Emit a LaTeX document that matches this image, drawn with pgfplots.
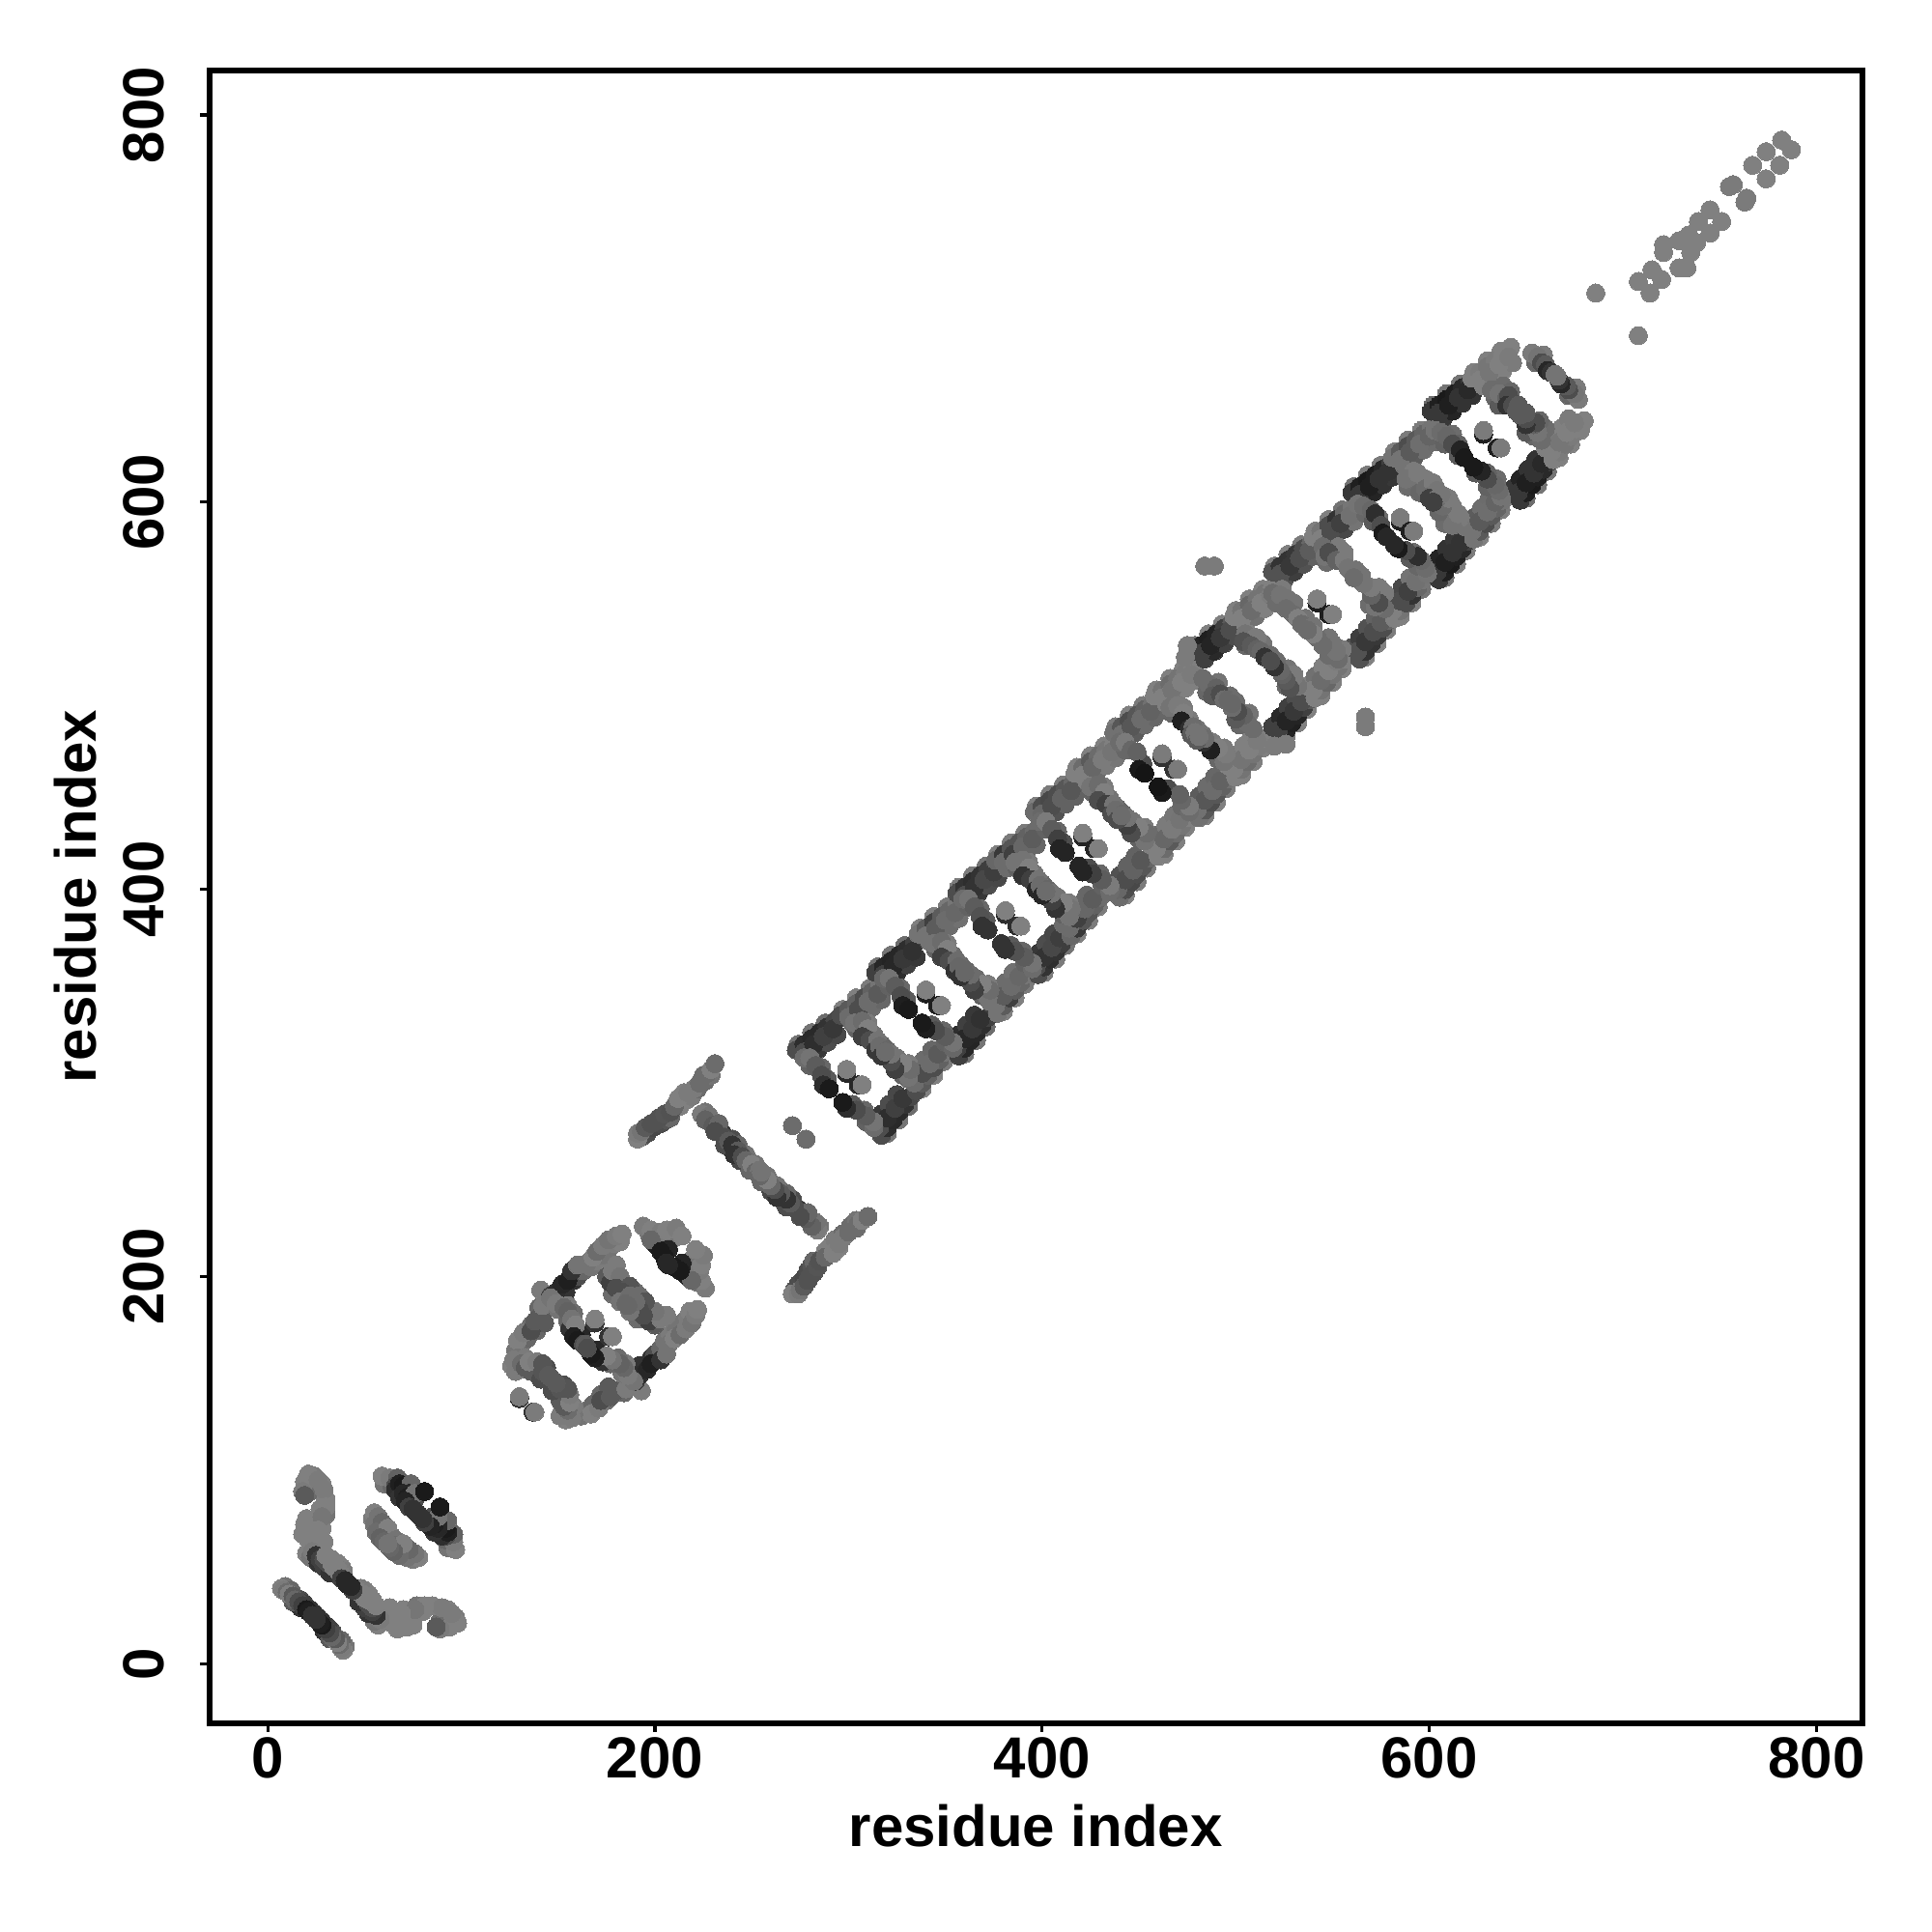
\documentclass[border=0pt]{standalone}
\usepackage{fontspec}
\setmainfont{Liberation Sans}
\usepackage{pgfplots}
\usepackage{pgfplotstable}
\pgfplotsset{compat=1.18}
\pgfplotstableread[row sep=\\]{
x y g\\
9 40 .45\\ 12 38 .4\\ 15 34 .42\\ 17 33 .3\\ 19 31 .25\\ 22 28 .2\\ 17 29 .2\\ 13 32 .35\\ 24 26 .2\\
7 39 .5\\ 8 38 .48\\ 10 37 .42\\ 11 36 .5\\ 13 35 .35\\ 14 33 .4\\ 16 32 .3\\ 18 30 .25\\ 20 28 .1\\ 21 27 .12\\ 23 25 .2\\
24 97 .48\\ 28 93 .5\\ 22 89 .42\\ 30 85 .5\\ 30 77 .45\\ 27 80 .5\\ 20 75 .5\\ 24 72 .5\\ 28 70 .5\\ 21 64 .5\\ 26 65 .48\\ 20 70 .5\\ 25 62 .5\\ 29 63 .5\\
21 98 .5\\ 19 94 .5\\ 18 89 .48\\ 19 87 .35\\ 26 95 .48\\ 29 90 .48\\ 30 81 .5\\ 28 76 .46\\ 19 72 .5\\ 18 67 .5\\ 26 69 .5\\ 22 66 .5\\ 20 57 .5\\ 22 55 .45\\ 23 58 .48\\
26 52 .2\\ 29 50 .25\\ 32 47 .2\\ 25 56 .2\\ 27 54 .25\\ 29 54 .3\\ 31 52 .3\\ 30 56 .5\\ 33 54 .5\\ 36 52 .5\\ 38 50 .5\\ 39 48 .48\\ 33 52 .5\\ 34 50 .5\\ 36 49 .5\\ 37 47 .5\\ 38 46 .5\\ 38 44 .25\\ 40 43 .15\\ 41 41 .15\\
60 93 .45\\ 64 92 .4\\ 59 97 .5\\ 63 96 .48\\ 67 96 .38\\ 66 92 .3\\ 68 89 .14\\ 66 90 .18\\ 68 93 .12\\ 70 92 .1\\ 74 93 .4\\ 73 88 .16\\ 68 86 .2\\ 76 85 .3\\ 70 88 .15\\ 72 86 .12\\ 76 88 .45\\ 81 89 .1\\ 71 84 .14\\ 73 81 .25\\ 75 80 .2\\ 77 78 .2\\
54 75 .48\\ 57 71 .48\\ 60 68 .45\\ 64 66 .45\\ 59 70 .42\\ 61 66 .42\\ 55 78 .5\\ 57 76 .45\\ 55 72 .45\\ 59 73 .4\\ 56 68 .42\\ 62 70 .5\\ 58 65 .38\\ 60 63 .4\\ 62 62 .45\\
131 165 .45\\ 134 168 .4\\ 136 175 .42\\ 139 172 .4\\ 143 176 .35\\ 140 184 .4\\ 147 186 .2\\ 150 188 .15\\ 154 192 .2\\ 158 198 .2\\ 160 200 .3\\ 163 203 .4\\ 167 205 .45\\ 170 208 .48\\ 173 211 .45\\ 176 214 .45\\ 179 217 .48\\ 182 218 .5\\
128 162 .45\\ 129 167 .5\\ 132 171 .48\\ 136 172 .3\\ 138 177 .35\\ 141 180 .35\\ 142 185 .48\\ 141 193 .48\\ 146 190 .25\\ 149 192 .18\\ 152 196 .15\\ 155 198 .12\\ 157 203 .2\\ 160 206 .45\\ 165 207 .45\\ 168 210 .5\\ 170 213 .42\\ 173 216 .48\\ 176 219 .45\\ 180 221 .48\\ 183 222 .5\\
129 158 .45\\ 133 158 .48\\ 137 153 .35\\ 140 150 .3\\ 130 152 .45\\ 136 151 .35\\ 141 147 .3\\ 144 153 .3\\
126 154 .5\\ 127 157 .48\\ 128 151 .48\\ 131 155 .42\\ 133 153 .35\\ 135 156 .5\\ 139 156 .48\\ 142 155 .33\\ 142 151 .33\\ 145 149 .35\\ 148 146 .35\\ 130 137 .2\\ 130 138 .48\\
150 183 .45\\ 155 185 .48\\ 158 181 .42\\ 155 177 .4\\ 156 173 .2\\ 162 170 .15\\ 165 164 .35\\
146 189 .45\\ 149 186 .48\\ 153 184 .4\\ 155 182 .38\\ 157 178 .45\\ 159 175 .5\\ 158 169 .12\\ 160 167 .1\\ 163 165 .3\\ 169 176 .2\\ 169 178 .5\\
175 200 .35\\ 181 196 .3\\ 178 191 .42\\ 184 188 .4\\ 190 192 .42\\ 180 206 .48\\
177 197 .25\\ 178 203 .48\\ 182 200 .45\\ 180 194 .3\\ 187 195 .33\\ 183 192 .3\\ 182 187 .45\\ 187 190 .42\\ 185 186 .4\\
197 222 .45\\ 210 220 .5\\ 208 222 .48\\ 205 219 .45\\ 200 217 .25\\ 201 216 .12\\ 207 214 .14\\
194 226 .48\\ 198 224 .5\\ 203 223 .48\\ 206 224 .5\\ 211 225 .48\\ 214 221 .5\\ 198 219 .4\\ 203 213 .1\\ 205 210 .1\\ 206 207 .15\\
193 272 .35\\ 196 274 .3\\ 199 277 .28\\ 203 279 .3\\ 206 281 .33\\ 208 282 .4\\ 213 288 .5\\ 216 291 .5\\ 219 293 .48\\ 222 297 .42\\ 226 301 .42\\ 229 304 .45\\
191 271 .5\\ 191 274 .48\\ 193 275 .45\\ 195 277 .35\\ 198 279 .32\\ 200 280 .32\\ 202 282 .32\\ 205 284 .33\\ 208 285 .32\\ 210 288 .4\\ 212 292 .5\\ 215 295 .5\\ 217 295 .48\\ 220 297 .48\\ 223 300 .42\\ 225 304 .42\\ 227 305 .42\\ 229 307 .5\\ 231 310 .42\\
226 285 .45\\ 229 281 .3\\ 233 276 .3\\ 235 274 .22\\ 238 267 .3\\ 240 271 .3\\ 243 268 .4\\ 244 260 .28\\ 247 263 .45\\ 249 255 .4\\ 252 258 .45\\ 236 268 .3\\
224 284 .48\\ 228 283 .45\\ 226 281 .38\\ 230 278 .35\\ 233 279 .4\\ 231 275 .3\\ 236 272 .3\\ 238 270 .35\\ 240 268 .2\\ 243 265 .35\\ 241 263 .2\\ 245 262 .3\\ 247 260 .4\\ 250 258 .5\\ 252 254 .4\\ 254 255 .45\\
271 278 .42\\
279 313 .3\\ 284 317 .22\\ 289 321 .3\\ 294 325 .28\\
274 320 .45\\ 281 326 .45\\ 288 331 .42\\ 273 317 .3\\ 277 320 .18\\ 281 323 .16\\ 285 326 .16\\ 289 329 .2\\ 293 332 .28\\ 277 316 .3\\ 282 320 .18\\ 287 324 .25\\ 292 328 .22\\
280 309 .38\\ 286 308 .4\\ 289 302 .35\\
277 313 .42\\ 280 313 .45\\ 283 309 .36\\ 286 304 .3\\ 287 299 .18\\ 290 297 .1\\ 299 305 .15\\ 299 307 .5\\
302 331 .42\\ 307 335 .35\\ 312 339 .42\\ 317 343 .4\\
297 338 .5\\ 304 344 .5\\ 311 349 .48\\ 296 335 .3\\ 300 338 .35\\ 304 341 .38\\ 308 344 .3\\ 312 347 .38\\ 316 350 .45\\ 300 334 .42\\ 305 338 .3\\ 310 342 .42\\ 315 346 .35\\
304 328 .38\\ 313 325 .45\\ 310 331 .48\\ 317 320 .4\\
303 331 .45\\ 307 332 .42\\ 310 328 .5\\ 307 324 .25\\ 311 322 .3\\ 315 322 .45\\ 314 317 .22\\ 316 319 .42\\
320 353 .25\\ 325 357 .18\\ 330 361 .25\\ 335 365 .22\\
315 360 .45\\ 322 366 .45\\ 329 371 .42\\ 314 357 .25\\ 318 360 .15\\ 322 363 .14\\ 326 366 .15\\ 330 369 .18\\ 334 372 .25\\ 318 356 .25\\ 323 360 .15\\ 328 364 .22\\ 333 368 .19\\
321 350 .38\\ 327 349 .4\\ 330 343 .35\\
318 354 .4\\ 321 354 .45\\ 324 350 .36\\ 327 345 .3\\ 328 340 .12\\ 331 338 .1\\ 340 346 .12\\ 340 348 .5\\
342 373 .45\\ 347 377 .4\\ 352 381 .42\\ 357 385 .44\\
337 380 .5\\ 344 386 .5\\ 351 391 .48\\ 336 377 .45\\ 340 380 .36\\ 344 383 .25\\ 348 386 .36\\ 352 389 .4\\ 356 392 .46\\ 340 376 .45\\ 345 380 .36\\ 350 384 .42\\ 355 388 .4\\
345 369 .38\\ 354 366 .42\\ 351 372 .48\\ 358 361 .4\\
344 372 .45\\ 348 373 .42\\ 351 369 .5\\ 348 365 .25\\ 352 363 .3\\ 356 363 .42\\ 355 358 .2\\ 357 360 .4\\
362 394 .3\\ 367 398 .22\\ 372 402 .3\\ 377 406 .28\\
357 401 .48\\ 364 407 .48\\ 371 412 .45\\ 356 398 .3\\ 360 401 .2\\ 364 404 .18\\ 368 407 .2\\ 372 410 .24\\ 376 413 .3\\ 360 397 .3\\ 365 401 .2\\ 370 405 .28\\ 375 409 .24\\
362 391 .38\\ 368 390 .4\\ 371 384 .35\\
359 395 .42\\ 362 395 .45\\ 365 391 .36\\ 368 386 .32\\ 369 381 .2\\ 372 379 .2\\ 381 387 .18\\ 381 389 .5\\
382 411 .42\\ 387 415 .3\\ 392 419 .4\\ 397 423 .4\\
377 418 .5\\ 384 424 .48\\ 391 429 .48\\ 376 415 .4\\ 380 418 .22\\ 384 421 .33\\ 388 424 .33\\ 392 427 .38\\ 396 430 .42\\ 380 414 .42\\ 385 418 .25\\ 390 422 .4\\ 395 426 .36\\
387 411 .38\\ 396 408 .45\\ 393 414 .48\\ 400 403 .4\\
386 414 .45\\ 390 415 .45\\ 393 411 .5\\ 390 407 .2\\ 394 405 .25\\ 398 405 .45\\ 397 400 .15\\ 399 402 .42\\
402 436 .4\\ 407 440 .32\\ 412 444 .38\\ 417 448 .38\\
397 443 .5\\ 404 449 .48\\ 411 454 .48\\ 396 440 .42\\ 400 443 .3\\ 404 446 .28\\ 408 449 .3\\ 412 452 .34\\ 416 455 .4\\ 400 439 .4\\ 405 443 .3\\ 410 447 .38\\ 415 451 .34\\
402 431 .38\\ 408 430 .4\\ 411 424 .3\\
399 435 .42\\ 402 435 .48\\ 405 431 .36\\ 408 426 .25\\ 409 421 .14\\ 412 419 .14\\ 421 427 .14\\ 421 429 .5\\
423 456 .5\\ 428 460 .42\\ 433 464 .48\\ 438 468 .46\\
418 463 .5\\ 425 469 .5\\ 432 474 .5\\ 417 460 .5\\ 421 463 .42\\ 425 466 .35\\ 429 469 .42\\ 433 472 .46\\ 437 475 .5\\ 421 459 .5\\ 426 463 .4\\ 431 467 .48\\ 436 471 .45\\
426 450 .38\\ 435 447 .45\\ 432 453 .48\\ 439 442 .4\\
425 453 .45\\ 429 454 .42\\ 432 450 .5\\ 429 446 .3\\ 433 444 .25\\ 437 444 .45\\ 436 439 .3\\ 438 441 .42\\
443 477 .44\\ 448 481 .36\\ 453 485 .42\\ 458 489 .4\\
438 484 .48\\ 445 490 .5\\ 452 495 .48\\ 437 481 .44\\ 441 484 .34\\ 445 487 .3\\ 449 490 .34\\ 453 493 .38\\ 457 496 .44\\ 441 480 .44\\ 446 484 .34\\ 451 488 .42\\ 456 492 .38\\
443 472 .4\\ 449 471 .42\\ 452 465 .3\\
440 476 .42\\ 443 476 .48\\ 446 472 .4\\ 449 471 .38\\ 450 462 .1\\ 453 460 .08\\ 462 468 .2\\ 462 470 .48\\
464 496 .5\\ 469 500 .46\\ 474 504 .5\\ 479 508 .5\\
459 503 .5\\ 466 509 .5\\ 473 514 .5\\ 458 500 .5\\ 462 503 .45\\ 466 506 .42\\ 470 509 .45\\ 474 512 .48\\ 478 515 .5\\ 462 499 .5\\ 467 503 .45\\ 472 507 .5\\ 477 511 .48\\
467 491 .4\\ 476 488 .48\\ 473 494 .48\\ 480 483 .45\\
466 494 .45\\ 470 495 .48\\ 473 491 .5\\ 472 487 .12\\ 476 483 .18\\ 478 484 .42\\ 477 480 .35\\ 479 481 .45\\
484 519 .25\\ 489 523 .16\\ 494 527 .25\\ 499 531 .3\\
479 526 .48\\ 486 532 .5\\ 493 537 .5\\ 478 523 .25\\ 482 526 .14\\ 486 529 .12\\ 490 532 .14\\ 494 535 .25\\ 498 538 .35\\ 482 522 .25\\ 487 526 .14\\ 492 530 .22\\ 497 534 .3\\
483 509 .42\\ 485 502 .4\\ 491 507 .45\\ 497 500 .42\\
486 506 .42\\ 490 504 .38\\ 488 500 .35\\ 492 501 .3\\ 494 498 .42\\ 496 498 .4\\ 475 526 .48\\ 474 520 .48\\ 484 567 .48\\ 489 567 .48\\
505 537 .5\\ 510 541 .44\\ 515 545 .5\\ 520 549 .5\\
500 544 .5\\ 507 550 .5\\ 514 555 .5\\ 499 541 .5\\ 503 544 .45\\ 507 547 .4\\ 511 550 .45\\ 515 553 .45\\ 519 556 .5\\ 503 540 .5\\ 508 544 .42\\ 513 548 .5\\ 518 552 .48\\
505 526 .4\\ 514 527 .45\\ 511 530 .48\\ 518 521 .42\\
505 532 .45\\ 510 530 .48\\ 504 528 .32\\ 508 526 .35\\ 511 524 .38\\ 513 523 .4\\ 515 520 .2\\ 518 518 .3\\
525 560 .32\\ 530 564 .24\\ 535 568 .32\\ 540 572 .38\\
520 567 .5\\ 527 573 .5\\ 534 578 .48\\ 519 564 .32\\ 523 567 .2\\ 527 570 .2\\ 531 573 .22\\ 535 576 .3\\ 539 579 .4\\ 523 563 .32\\ 528 567 .22\\ 533 571 .3\\ 538 575 .36\\
521 548 .42\\ 530 548 .45\\ 524 555 .48\\ 536 540 .45\\
519 553 .42\\ 523 552 .45\\ 527 550 .45\\ 526 545 .42\\ 530 542 .42\\ 532 540 .5\\ 534 537 .42\\ 542 548 .12\\ 542 550 .5\\
546 578 .5\\ 551 582 .32\\ 556 586 .28\\ 561 590 .45\\
541 585 .5\\ 548 591 .5\\ 555 596 .45\\ 540 582 .5\\ 544 585 .45\\ 548 588 .3\\ 552 591 .2\\ 556 594 .4\\ 560 597 .46\\ 544 581 .5\\ 549 585 .3\\ 554 589 .25\\ 559 593 .44\\
547 569 .42\\ 556 574 .48\\ 553 577 .48\\ 562 565 .45\\
545 577 .42\\ 546 572 .45\\ 552 574 .48\\ 548 574 .3\\ 552 570 .38\\ 556 570 .48\\ 558 566 .45\\ 560 564 .45\\ 561 561 .42\\
566 601 .22\\ 571 605 .14\\ 576 609 .2\\ 581 613 .22\\
561 608 .45\\ 568 614 .48\\ 575 619 .48\\ 560 605 .22\\ 564 608 .12\\ 568 611 .1\\ 572 614 .12\\ 576 617 .16\\ 580 620 .25\\ 564 604 .22\\ 569 608 .12\\ 574 612 .2\\ 579 616 .2\\
567 594 .4\\ 571 590 .35\\ 574 592 .42\\
563 599 .45\\ 566 598 .42\\ 570 596 .4\\ 572 594 .18\\ 575 588 .3\\ 576 584 .1\\ 578 582 .15\\ 585 590 .12\\ 585 592 .48\\
587 619 .45\\ 592 623 .36\\ 597 627 .43\\ 602 631 .42\\
582 626 .5\\ 589 632 .48\\ 596 637 .48\\ 581 623 .45\\ 585 626 .35\\ 589 629 .3\\ 593 632 .35\\ 597 635 .39\\ 601 638 .45\\ 585 622 .45\\ 590 626 .35\\ 595 630 .43\\ 600 634 .39\\
589 608 .42\\ 596 611 .45\\ 592 616 .48\\ 603 608 .45\\ 595 605 .4\\
588 612 .45\\ 594 615 .48\\ 598 612 .48\\ 598 607 .42\\ 602 610 .48\\ 602 604 .42\\ 604 606 .46\\ 600 602 .25\\
607 643 .22\\ 612 647 .14\\ 617 651 .2\\ 622 655 .2\\
602 650 .42\\ 609 656 .45\\ 616 661 .45\\ 601 647 .22\\ 605 650 .12\\ 609 653 .1\\ 613 656 .12\\ 617 659 .16\\ 621 662 .22\\ 605 646 .22\\ 610 650 .12\\ 615 654 .2\\ 620 658 .16\\
608 630 .38\\ 612 635 .42\\ 615 630 .38\\
603 637 .45\\ 606 636 .42\\ 609 634 .4\\ 612 630 .3\\ 615 624 .35\\ 616 627 .14\\ 618 623 .1\\ 628 635 .12\\ 628 637 .48\\
628 660 .5\\ 633 664 .48\\ 638 668 .5\\ 643 672 .48\\
623 667 .5\\ 630 673 .5\\ 637 678 .5\\ 622 664 .5\\ 626 667 .48\\ 630 670 .46\\ 634 673 .48\\ 638 676 .5\\ 642 680 .5\\ 626 663 .5\\ 631 667 .46\\ 636 671 .5\\ 641 675 .48\\
634 654 .4\\ 638 660 .42\\ 642 657 .4\\ 636 650 .35\\
632 658 .42\\ 636 656 .45\\ 640 654 .38\\ 641 655 .3\\ 640 650 .2\\ 643 650 .3\\ 645 647 .35\\ 646 650 .35\\
655 672 .4\\ 659 676 .48\\
653 677 .48\\ 656 675 .45\\ 658 672 .3\\ 660 671 .35\\ 661 668 .15\\ 663 667 .2\\ 665 666 .45\\
686 708 .5\\ 708 714 .5\\ 715 720 .5\\ 721 729 .5\\ 721 733 .5\\ 729 735 .5\\ 734 738 .5\\ 739 745 .5\\ 745 751 .5\\ 755 763 .48\\ 757 764 .48\\ 767 774 .5\\ 774 781 .5\\ 782 787 .5\\
}\contacts
\pgfplotsset{colormap={grayscale}{gray(0cm)=(0); gray(1cm)=(1)}}
\begin{document}
\begin{tikzpicture}
\useasboundingbox (-54.175pt,-54.08pt) rectangle (445.825pt,445.92pt);
\begin{axis}[
  scale only axis, width=427.75pt, height=427.75pt,
  xmin=-30.2, xmax=823.6, ymin=-30.6, ymax=823.1,
  axis line style={line width=1.5pt},
  xtick={0,200,400,600,800}, ytick={0,200,400,600,800},
  tick align=outside, major tick length=2.3pt,
  tick style={line width=.8pt, black},
  xtick pos=bottom, ytick pos=left,
  /pgf/number format/assume math mode=true,
  /pgf/number format/fixed,
  tick label style={font=\fontsize{15}{18}\selectfont\bfseries},
  xticklabel style={anchor=center, yshift=-6.8pt},
  yticklabel style={rotate=90, anchor=center, yshift=14.6pt},
  xlabel={residue index}, ylabel={residue index},
  every axis x label/.style={at={(axis description cs:0.5,0)}, anchor=center, yshift=-26.5pt, font=\fontsize{15}{18}\selectfont\bfseries},
  every axis y label/.style={at={(axis description cs:0,0.5)}, anchor=center, rotate=90, yshift=34.6pt, font=\fontsize{15}{18}\selectfont\bfseries},
  point meta min=0, point meta max=1,
  clip=false,
]
\addplot[scatter, only marks, mark=*, mark size=2.35pt, line width=0pt,
  scatter src=explicit, scatter/use mapped color={draw=mapped color, fill=mapped color}]
  table[x=x, y=y, meta=g] {\contacts};
\addplot[scatter, only marks, mark=*, mark size=2.35pt, line width=0pt,
  scatter src=explicit, scatter/use mapped color={draw=mapped color, fill=mapped color}]
  table[x=y, y=x, meta=g] {\contacts};
\end{axis}
\end{tikzpicture}
\end{document}
